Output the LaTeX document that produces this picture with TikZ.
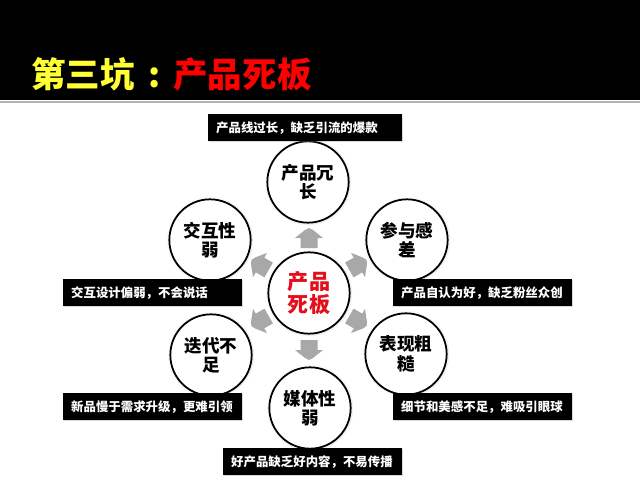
\documentclass[tikz,border=0pt]{standalone}
\usepackage{fontspec}
\setmainfont{Noto Sans CJK SC}
\usetikzlibrary{shadows}
\definecolor{Lemon}{HTML}{FFFF33}
\definecolor{Hot}{HTML}{FF0000}
\definecolor{Core}{HTML}{E3101C}
\definecolor{Stone}{HTML}{A8A8A8}
\definecolor{Rim}{HTML}{B4B4B4}
\tikzset{pit/.style={circle,draw=black,line width=1.5pt,fill=white,minimum size=2.44cm,inner sep=0pt,align=center,font=\fontsize{15}{16.5}\selectfont\bfseries,circular drop shadow={shadow xshift=0pt,shadow yshift=0pt,shadow scale=1.07,opacity=.45}},tag/.style={fill=black,text=white,anchor=north west,inner xsep=.24cm,inner ysep=0pt,minimum height=.81cm,text width=4.89cm,align=left,font=\fontsize{10.6}{12}\selectfont\bfseries,drop shadow={shadow xshift=.6pt,shadow yshift=-1pt,opacity=.3}},push/.pic={\fill[Stone] (-10,-8.5) -- (0,-8.5) -- (0,-14) -- (8,-4) -- (10,0) -- (8,4) -- (0,14) -- (0,8.5) -- (-10,8.5) -- cycle;}}

\begin{document}
\begin{tikzpicture}[x=.03cm,y=-.03cm]
\useasboundingbox (0,0) rectangle (640,480);
% header band
\fill[black] (0,0) rectangle (640,100);
\draw[Rim,line width=2.5pt] (0,102) -- (640,102);
\node[anchor=west,inner sep=0pt,font=\fontsize{29.5}{31}\selectfont\bfseries] (title) at (31,74)
  {\textcolor{Lemon}{第三坑\hspace{.38em}:\hspace{.38em}}\textcolor{Hot}{产品死板}};

% outward arrows
\pic[rotate=90] (pu) at (309,238) {push};
\pic[rotate=270] (pd) at (309,350) {push};
\pic[rotate=150] (pul) at (260,265) {push};
\pic[rotate=30] (pur) at (358,265) {push};
\pic[rotate=210] (pll) at (260,321) {push};
\pic[rotate=330] (plr) at (358,321) {push};

% circles
\node[pit,text=Core,font=\fontsize{18}{19.5}\selectfont\bfseries] (core) at (309,293) {产品\\死板};
\node[pit] (long) at (308,182) {产品冗\\长};
\node[pit] (inter) at (210,240) {交互性\\弱};
\node[pit] (join) at (407,240) {参与感\\差};
\node[pit] (iter) at (211,355) {迭代不\\足};
\node[pit] (rough) at (406,354) {表现粗\\糙};
\node[pit] (media) at (310,408) {媒体性\\弱};

% black captions
\node[tag,text width=5.34cm] (tlong) at (208,114) {产品线过长，缺乏引流的爆款};
\node[tag] (tinter) at (63,279) {交互设计偏弱，不会说话};
\node[tag] (tjoin) at (393,279) {产品自认为好，缺乏粉丝众创};
\node[tag] (titer) at (63,393) {新品慢于需求升级，更难引领};
\node[tag] (trough) at (393,393) {细节和美感不足，难吸引眼球};
\node[tag] (tmedia) at (223,448) {好产品缺乏好内容，不易传播};
\end{tikzpicture}
\end{document}
